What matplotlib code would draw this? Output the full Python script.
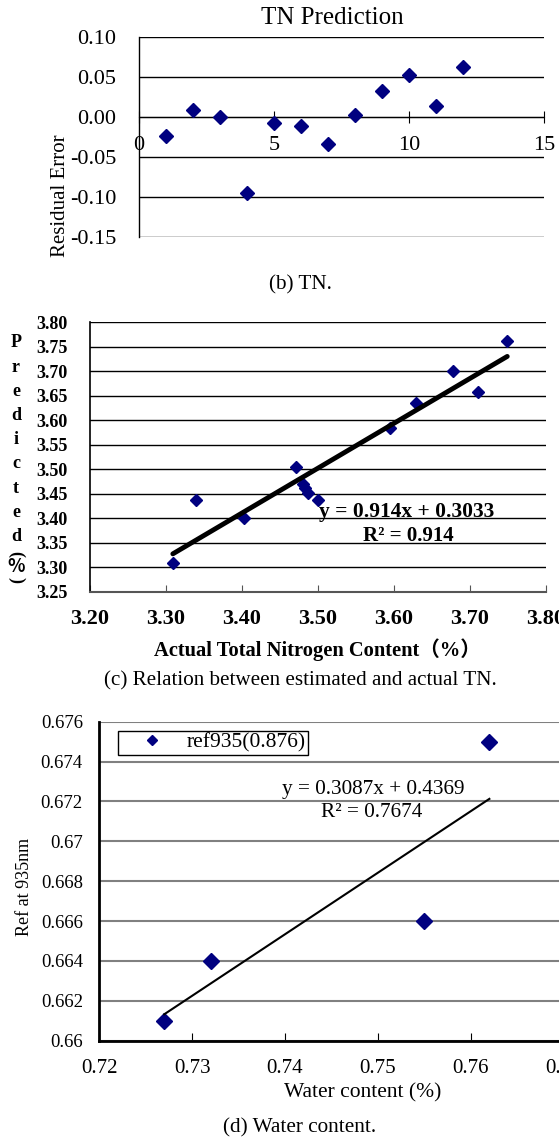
import numpy as np
import matplotlib.pyplot as plt
from matplotlib.ticker import FuncFormatter

plt.rcParams['font.family'] = ['Liberation Serif', 'Noto Sans CJK SC']
plt.rcParams['axes.unicode_minus'] = False

# (b) residual errors
res_x = np.arange(1, 13)
res_y = [-0.024, 0.009, 0.000, -0.095, -0.007, -0.011, -0.034, 0.003, 0.033, 0.053, 0.014, 0.062]

# (c) actual vs predicted TN
tn_actual = [3.309, 3.340, 3.403, 3.471, 3.480, 3.483, 3.487, 3.500, 3.595, 3.629, 3.678, 3.711, 3.749]
tn_pred = [3.310, 3.437, 3.400, 3.505, 3.469, 3.461, 3.452, 3.437, 3.585, 3.636, 3.701, 3.657, 3.761]
tn_slope, tn_icpt = 0.914, 0.3033

# (d) water content vs reflectance at 935nm
water = [0.727, 0.732, 0.755, 0.762]
ref935 = [0.661, 0.664, 0.666, 0.675]
w_slope, w_icpt = 0.3087, 0.4369

W, H = 559, 1140
fig = plt.figure(figsize=(W / 100, H / 100), dpi=100)
navy = '#000080'


def fx(px):
    return px / W


def fy(py):
    return 1 - py / H


# ---------- panel (b)
ax1 = fig.add_axes([fx(139), fy(237), fx(544 - 139), (237 - 37) / H])
ax1.plot(res_x, res_y, 'D', color=navy, ms=6.8, clip_on=False, zorder=3)
ax1.set_xlim(0, 15)
ax1.set_ylim(-0.15, 0.10)
ax1.set_xticks([0, 5, 10, 15])
ax1.set_yticks(np.arange(-0.15, 0.101, 0.05))
ax1.yaxis.set_major_formatter(FuncFormatter(lambda v, p: f"{v:.2f}"))
ax1.spines['top'].set_visible(False)
ax1.spines['right'].set_visible(False)
ax1.spines['bottom'].set_position(('data', 0))
ax1.spines['left'].set_linewidth(1)
ax1.yaxis.grid(True, color='black', lw=1)
ax1.set_axisbelow(True)
ax1.tick_params(axis='x', direction='inout', length=8, pad=9.5, labelsize=16)
ax1.tick_params(axis='y', length=0, pad=16.5, labelsize=16)
fig.text(fx(332), fy(18), 'TN Prediction', ha='center', va='center', fontsize=18)
fig.text(fx(61), fy(196), 'Residual Error', ha='center', va='center', rotation=90, fontsize=15)
fig.text(fx(300), fy(285), '(b) TN.', ha='center', va='center', fontsize=15.2)

# ---------- panel (c)
ax2 = fig.add_axes([fx(90), fy(592), fx(546 - 90), (592 - 322) / H])
ax2.plot(tn_actual, tn_pred, 'D', color=navy, ms=6.5, zorder=3)
fit_x = np.array([min(tn_actual), max(tn_actual)])
ax2.plot(fit_x, tn_slope * fit_x + tn_icpt, color='black', lw=3.5, solid_capstyle='round', zorder=4)
ax2.set_xlim(3.20, 3.80)
ax2.set_ylim(3.25, 3.80)
ax2.set_xticks(np.arange(3.20, 3.801, 0.10))
ax2.set_yticks(np.arange(3.25, 3.801, 0.05))
ax2.xaxis.set_major_formatter(FuncFormatter(lambda v, p: f"{v:.2f}"))
ax2.yaxis.set_major_formatter(FuncFormatter(lambda v, p: f"{v:.2f}"))
for lab in ax2.get_xticklabels() + ax2.get_yticklabels():
    lab.set_fontweight('bold')
ax2.spines['top'].set_visible(False)
ax2.spines['right'].set_visible(False)
ax2.spines['left'].set_linewidth(1.2)
ax2.spines['bottom'].set_color('#555555')
ax2.spines['bottom'].set_linewidth(1.5)
ax2.yaxis.grid(True, color='black', lw=1)
ax2.set_axisbelow(True)
ax2.tick_params(axis='x', direction='in', length=5, color='#555555', pad=12, labelsize=16)
ax2.tick_params(axis='y', length=0, pad=16, labelsize=13)
ax2.text(0.694, 0.297, 'y = 0.914x + 0.3033', transform=ax2.transAxes, ha='center', va='center',
         fontsize=15.5, fontweight='bold', zorder=5)
ax2.text(0.697, 0.209, 'R² = 0.914', transform=ax2.transAxes, ha='center', va='center',
         fontsize=15, fontweight='bold', zorder=5)
ylab_chars = list('Predicted')
for i, ch in enumerate(ylab_chars):
    fig.text(fx(16), fy(343 + 24.2 * i), ch, ha='center', va='center', fontsize=13, fontweight='bold')
# brackets turned on their side around the percent sign
fig.text(fx(16), fy(554), '(', ha='center', va='center', fontsize=13, fontweight='bold', rotation=-90)
fig.text(fx(16), fy(567), '%', ha='center', va='center', fontsize=13, fontweight='bold',
         family='Noto Sans CJK SC')
fig.text(fx(16), fy(580), ')', ha='center', va='center', fontsize=13, fontweight='bold', rotation=-90)
fig.text(fx(317), fy(650), 'Actual Total Nitrogen Content（%）', ha='center', va='center',
         fontsize=14.8, fontweight='bold')
fig.text(fx(300), fy(681), '(c) Relation between estimated and actual TN.', ha='center', va='center',
         fontsize=15.2)

# ---------- panel (d)
ax3 = fig.add_axes([fx(99.2), fy(1040.7), 6 * 92.9 / W, (1040.7 - 721.7) / H])
ax3.plot(water, ref935, 'D', color=navy, ms=7.8, label='ref935(0.876)', zorder=3)
fit_w = np.array([min(water), max(water)])
ax3.plot(fit_w, w_slope * fit_w + w_icpt, color='black', lw=1.5, zorder=4)
ax3.set_xlim(0.72, 0.78)
ax3.set_ylim(0.66, 0.676)
ax3.set_xticks(np.arange(0.72, 0.7801, 0.01))
ax3.set_yticks(np.arange(0.66, 0.6761, 0.002))
ax3.xaxis.set_major_formatter(FuncFormatter(lambda v, p: f"{v:g}"))
ax3.yaxis.set_major_formatter(FuncFormatter(lambda v, p: f"{round(v, 3):g}"))
ax3.spines['top'].set_visible(False)
ax3.spines['right'].set_visible(False)
ax3.spines['left'].set_linewidth(2)
ax3.spines['bottom'].set_linewidth(2)
ax3.yaxis.grid(True, color='#808080', lw=1.5)
ax3.set_axisbelow(True)
ax3.tick_params(axis='x', direction='in', length=6, pad=13, labelsize=15)
ax3.tick_params(axis='y', length=0, pad=11.8, labelsize=13.5)
leg = ax3.legend(handles=[ax3.lines[0]], loc='upper left', bbox_to_anchor=(0.0345, 0.972),
                 borderaxespad=0, fancybox=False, edgecolor='black', framealpha=1,
                 fontsize=15.5, borderpad=0.1, handlelength=2.9, handletextpad=0.15, markerscale=0.65)
leg.get_frame().set_linewidth(1)
ax3.text((373.5 - 99.2) / (6 * 92.9), 0.789, 'y = 0.3087x + 0.4369', transform=ax3.transAxes,
         ha='center', va='center', fontsize=15.3)
ax3.text((372 - 99.2) / (6 * 92.9), 0.714, 'R² = 0.7674', transform=ax3.transAxes,
         ha='center', va='center', fontsize=15.3)
fig.text(fx(25), fy(887), 'Ref at 935nm', ha='center', va='center', rotation=90, fontsize=13)
fig.text(fx(363), fy(1093), 'Water content (%)', ha='center', va='center', fontsize=15.5)
fig.text(fx(300), fy(1128), '(d) Water content.', ha='center', va='center', fontsize=15.3)

fig.savefig('out.png', dpi=100)
